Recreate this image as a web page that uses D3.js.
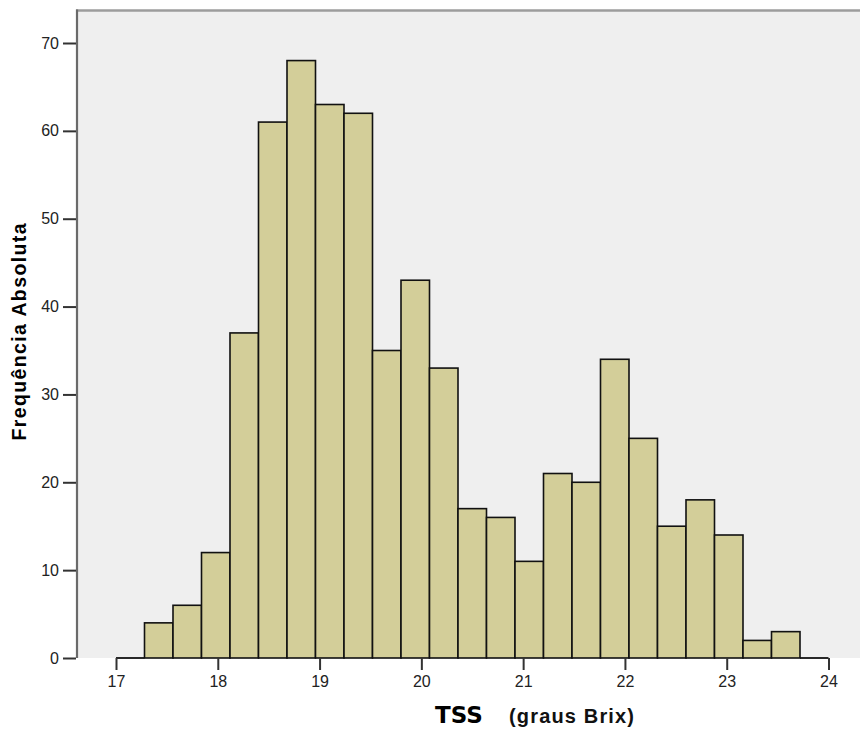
<!DOCTYPE html>
<html><head><meta charset="utf-8">
<script src="https://cdn.jsdelivr.net/npm/d3@7"></script>
<style>
html,body{margin:0;padding:0;background:#fff;}
svg{display:block;}
</style></head>
<body>
<svg id="chart" width="860" height="729"></svg>
<script>
const binEdges = [17.00,17.28,17.56,17.84,18.12,18.40,18.68,18.96,19.24,19.52,19.80,20.08,20.36,20.64,20.92,21.20,21.48,21.76,22.04,22.32,22.60,22.88,23.16,23.44,23.72,24.00];
const counts = [0,4,6,12,37,61,68,63,62,35,43,33,17,16,11,21,20,34,25,15,18,14,2,3,0];
const xTicks = [17,18,19,20,21,22,23,24];
const yTicks = [0,10,20,30,40,50,60,70];
const yTitle = "Frequência Absoluta";
const xTitleMain = "TSS";
const xTitleUnit = "(graus Brix)";

const svg = d3.select("#chart");
const plot = {left:77, right:860, top:11, bottom:658};
const x = d3.scaleLinear().domain([17,24]).range([116,828.5]);
const y = d3.scaleLinear().domain([0,70]).range([658,43]);

// background
svg.append("rect").attr("x",plot.left).attr("y",plot.top)
  .attr("width",plot.right-plot.left).attr("height",plot.bottom-plot.top)
  .attr("fill","#efefef");
// top border
svg.append("line").attr("x1",plot.left-1).attr("x2",plot.right).attr("y1",plot.top-0.5).attr("y2",plot.top-0.5)
  .attr("stroke","#9c9c9c").attr("stroke-width",2.5);

// bars
const bins = counts.map((c,i)=>({x0:binEdges[i], x1:binEdges[i+1], c}));
svg.append("g").selectAll("rect").data(bins.filter(d=>d.c>0)).join("rect")
  .attr("x",d=>x(d.x0)).attr("width",d=>x(d.x1)-x(d.x0))
  .attr("y",d=>y(d.c)).attr("height",d=>y(0)-y(d.c))
  .attr("fill","#d3ce99").attr("stroke","#111").attr("stroke-width",1.6);
// empty bins drawn as a line on the baseline
svg.append("g").selectAll("line").data(bins.filter(d=>d.c===0)).join("line")
  .attr("x1",d=>x(d.x0)).attr("x2",d=>x(d.x1))
  .attr("y1",y(0)).attr("y2",y(0))
  .attr("stroke","#111").attr("stroke-width",1.8);

// left axis line
svg.append("line").attr("x1",plot.left).attr("x2",plot.left).attr("y1",plot.top-1.5).attr("y2",plot.bottom)
  .attr("stroke","#6a6a6a").attr("stroke-width",2.2);

// y axis
const yAxis = svg.append("g").attr("transform",`translate(${plot.left-1},0)`)
  .call(d3.axisLeft(y).tickValues(yTicks).tickSize(13).tickPadding(4).tickFormat(d3.format("d")));
yAxis.select(".domain").remove();
yAxis.selectAll(".tick line").attr("stroke","#333").attr("stroke-width",2);
yAxis.selectAll(".tick text").attr("fill","#222").style("font-family","'Liberation Sans', Arial, sans-serif").style("font-size","16px");

// x axis
const xAxis = svg.append("g").attr("transform",`translate(0,${plot.bottom})`)
  .call(d3.axisBottom(x).tickValues(xTicks).tickSize(12).tickPadding(6).tickFormat(d3.format("d")));
xAxis.select(".domain").remove();
xAxis.selectAll(".tick line").attr("stroke","#333").attr("stroke-width",2);
xAxis.selectAll(".tick text").attr("fill","#222").style("font-family","'Liberation Sans', Arial, sans-serif").style("font-size","16px");

// y title
svg.append("text").attr("transform","translate(26,332) rotate(-90)")
  .attr("text-anchor","middle")
  .attr("textLength",217).attr("lengthAdjust","spacing")
  .style("font-family","'Liberation Sans', Arial, sans-serif").style("font-weight","bold").style("font-size","19.5px")
  .attr("fill","#000").text(yTitle);

// x title
svg.append("text").attr("x",435).attr("y",723)
  .style("font-family","'DejaVu Sans', Verdana, sans-serif").style("font-weight","bold").style("font-size","23px")
  .attr("fill","#000").text(xTitleMain);
svg.append("text").attr("x",509).attr("y",723)
  .attr("textLength",125).attr("lengthAdjust","spacing")
  .style("font-family","'Liberation Sans', Arial, sans-serif").style("font-weight","bold").style("font-size","20px")
  .attr("fill","#111").text(xTitleUnit);
</script>
</body></html>
